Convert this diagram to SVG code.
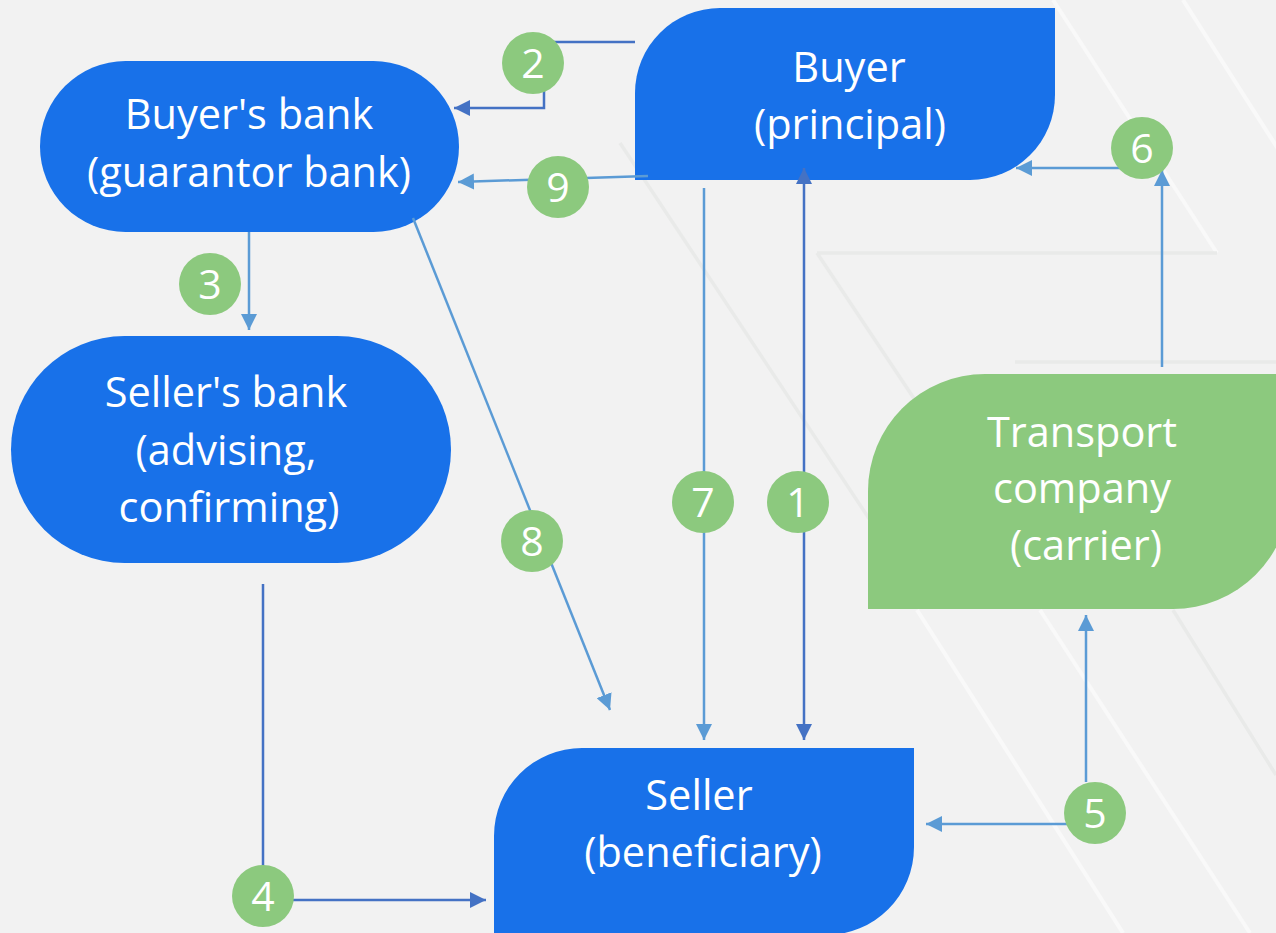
<svg xmlns="http://www.w3.org/2000/svg" width="1276" height="933" viewBox="0 0 1276 933">
<defs>
<style>
.bg{fill:#f2f2f2}
.deco-w{stroke:#f9f9f9;stroke-width:4;fill:none}
.deco-g{stroke:#e9eae9;stroke-width:3.5;fill:none}
.node-b{fill:#1871e9}
.node-g{fill:#8cc97e}
.t{font-family:"Open Sans","Lato","Liberation Sans",sans-serif;font-size:41.5px;fill:#ffffff;text-anchor:middle}
.c-dark{stroke:#4472c4;stroke-width:2.5;fill:none}
.c-light{stroke:#5b9bd5;stroke-width:2.5;fill:none}
.badge{fill:#8cc97e}
.num{font-family:"Open Sans","Lato","Liberation Sans",sans-serif;font-size:41px;fill:#ffffff;text-anchor:middle}
</style>
<marker id="ad" viewBox="0 0 16 16" refX="16" refY="8" markerWidth="16" markerHeight="16" markerUnits="userSpaceOnUse" orient="auto-start-reverse"><path d="M0,0 L16,8 L0,16 Z" fill="#4472c4"/></marker>
<marker id="al" viewBox="0 0 16 16" refX="16" refY="8" markerWidth="16" markerHeight="16" markerUnits="userSpaceOnUse" orient="auto-start-reverse"><path d="M0,0 L16,8 L0,16 Z" fill="#5b9bd5"/></marker>
</defs>
<rect class="bg" x="0" y="0" width="1276" height="933"/>
<g id="background-decoration">
<path class="deco-w" d="M1053,0 L1217,253"/>
<path class="deco-w" d="M1183,0 L1280,152"/>
<path class="deco-g" d="M817,253 H1217"/>
<path class="deco-g" d="M817,253 L915,400"/>
<path class="deco-g" d="M620,143 L870,520"/>
<path class="deco-g" d="M1015,362 H1276"/>
<path class="deco-w" d="M917,610 L1123,933"/>
<path class="deco-g" d="M1173,610 L1276,775"/>
<path class="deco-w" d="M1040,610 L1250,933"/>
</g>
<g id="node-buyers-bank">
<rect class="node-b" x="40" y="61" width="419" height="171" rx="85.5"/>
<text class="t" x="249" y="129">Buyer's bank</text>
<text class="t" x="249" y="187">(guarantor bank)</text>
</g>
<g id="node-buyer">
<path class="node-b" d="M635,180 V93 A85,85 0 0 1 720,8 H1055 V95 A85,85 0 0 1 970,180 Z"/>
<text class="t" x="849" y="82">Buyer</text>
<text class="t" x="850" y="139">(principal)</text>
</g>
<g id="node-sellers-bank">
<rect class="node-b" x="11" y="336" width="440" height="227" rx="113.5"/>
<text class="t" x="226" y="407">Seller's bank</text>
<text class="t" x="226" y="465">(advising,</text>
<text class="t" x="229" y="522">confirming)</text>
</g>
<g id="node-seller">
<path class="node-b" d="M494,940 V836 A88,88 0 0 1 582,748 H914 V847 A88,88 0 0 1 826,935 V940 Z"/>
<text class="t" x="699" y="810">Seller</text>
<text class="t" x="703" y="867">(beneficiary)</text>
</g>
<g id="node-transport">
<path class="node-g" d="M868,609 V491 A117,117 0 0 1 985,374 H1290 V492 A117,117 0 0 1 1173,609 Z"/>
<text class="t" x="1082" y="447">Transport</text>
<text class="t" x="1082" y="503">company</text>
<text class="t" x="1086" y="560">(carrier)</text>
</g>
<g id="connectors">
<path class="c-dark" d="M804,740 V168" marker-start="url(#ad)" marker-end="url(#ad)"/>
<path class="c-dark" d="M635,42 H544 V108 H454" marker-end="url(#ad)"/>
<path class="c-light" d="M249,232 V330" marker-end="url(#al)"/>
<path class="c-dark" d="M263,584 V900 H486" marker-end="url(#ad)"/>
<path class="c-light" d="M1086,782 V615" marker-end="url(#al)"/>
<path class="c-light" d="M1095,824 H926" marker-end="url(#al)"/>
<path class="c-light" d="M1162,367 V170" marker-end="url(#al)"/>
<path class="c-light" d="M1142,168 H1016" marker-end="url(#al)"/>
<path class="c-light" d="M704,188 V740" marker-end="url(#al)"/>
<path class="c-light" d="M413,218 L610,710" marker-end="url(#al)"/>
<path class="c-light" d="M648,176 L458,182" marker-end="url(#al)"/>
</g>
<g id="labels">
<g id="badge-1"><circle class="badge" cx="798" cy="502" r="31"/><text class="num" x="798" y="517">1</text></g>
<g id="badge-2"><circle class="badge" cx="533" cy="63" r="31"/><text class="num" x="533" y="78">2</text></g>
<g id="badge-3"><circle class="badge" cx="210" cy="284" r="31"/><text class="num" x="210" y="299">3</text></g>
<g id="badge-4"><circle class="badge" cx="263" cy="896" r="31"/><text class="num" x="263" y="911">4</text></g>
<g id="badge-5"><circle class="badge" cx="1095" cy="813" r="31"/><text class="num" x="1095" y="828">5</text></g>
<g id="badge-6"><circle class="badge" cx="1142" cy="148" r="31"/><text class="num" x="1142" y="163">6</text></g>
<g id="badge-7"><circle class="badge" cx="703" cy="502" r="31"/><text class="num" x="703" y="517">7</text></g>
<g id="badge-8"><circle class="badge" cx="532" cy="541" r="31"/><text class="num" x="532" y="556">8</text></g>
<g id="badge-9"><circle class="badge" cx="558" cy="187" r="31"/><text class="num" x="558" y="202">9</text></g>
</g>
</svg>
